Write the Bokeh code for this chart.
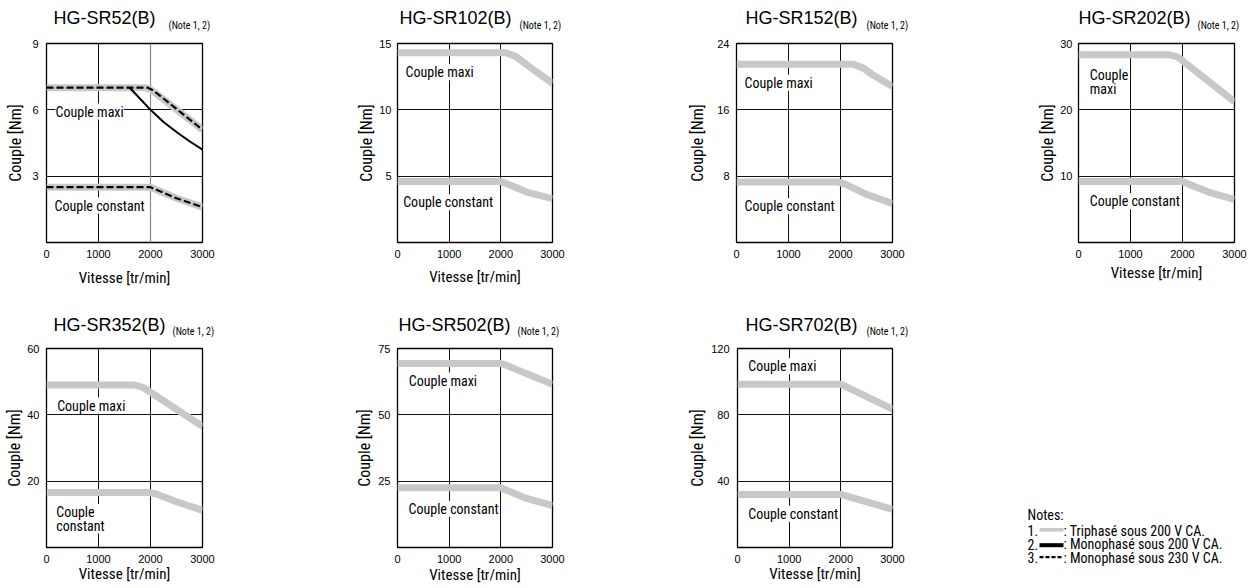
from bokeh.plotting import figure
from bokeh.layouts import row, column
from bokeh.models import Label, FixedTicker, Range1d, Span
from bokeh.embed import file_html
from bokeh.resources import INLINE

# ---------------- data ----------------
SPEED_TICKS = [0, 1000, 2000, 3000]
SPEED_MAX = 3000
MODELS = ["HG-SR52(B)", "HG-SR102(B)", "HG-SR152(B)", "HG-SR202(B)",
          "HG-SR352(B)", "HG-SR502(B)", "HG-SR702(B)"]
NOTE_REF = "(Note 1, 2)"
TORQUE_MAX = [9, 15, 24, 30, 60, 75, 120]
TORQUE_TICKS = [[3, 6, 9], [5, 10, 15], [8, 16, 24], [10, 20, 30],
                [20, 40, 60], [25, 50, 75], [40, 80, 120]]

# maximum torque, three-phase 200 V AC (grey)
MAX_SPEED = [
    [0, 1900, 2000, 2100, 3000],
    [0, 2100, 2300, 2500, 3000],
    [0, 2250, 2450, 2600, 3000],
    [0, 1750, 1900, 2000, 3000],
    [0, 1700, 1850, 2000, 3000],
    [0, 2000, 2080, 3000],
    [0, 2000, 3000],
]
MAX_TORQUE = [
    [7.0, 7.0, 6.92, 6.75, 5.1],
    [14.3, 14.3, 14.0, 13.4, 12.0],
    [21.5, 21.5, 21.0, 20.3, 18.8],
    [28.3, 28.3, 28.0, 27.4, 21.2],
    [49.0, 49.0, 48.3, 46.8, 36.5],
    [69.3, 69.3, 68.9, 61.5],
    [98.5, 98.5, 83.5],
]
# continuous torque, three-phase 200 V AC (grey)
CONT_SPEED = [
    [0, 2000, 2150, 2500, 3000],
    [0, 2000, 2200, 2500, 3000],
    [0, 1950, 2100, 2500, 3000],
    [0, 2000, 2150, 2500, 3000],
    [0, 1950, 2100, 2500, 3000],
    [0, 2000, 2100, 2500, 3000],
    [0, 2000, 3000],
]
CONT_TORQUE = [
    [2.5, 2.5, 2.35, 2.0, 1.6],
    [4.6, 4.6, 4.3, 3.8, 3.3],
    [7.3, 7.3, 7.0, 5.8, 4.7],
    [9.2, 9.2, 8.7, 7.6, 6.5],
    [16.6, 16.6, 16.2, 13.8, 11.2],
    [22.5, 22.5, 21.7, 18.5, 15.8],
    [32.0, 32.0, 23.0],
]
# HG-SR52 only: single-phase 200 V AC maximum torque (solid black)
SR52_MONO200_SPEED = [1600, 1800, 2000, 2250, 2500, 2750, 3000]
SR52_MONO200_TORQUE = [7.0, 6.5, 6.0, 5.45, 5.0, 4.58, 4.2]
# HG-SR52 only: single-phase 230 V AC (dashed) -- follows the grey curves
SR52_MONO230_MAX_SPEED = [0, 1950, 2050, 2150, 3000]
SR52_MONO230_MAX_TORQUE = [7.0, 7.0, 6.88, 6.7, 5.1]
SR52_MONO230_CONT_SPEED = [0, 2000, 2150, 2500, 3000]
SR52_MONO230_CONT_TORQUE = [2.5, 2.5, 2.35, 2.0, 1.6]

MAX_TEXT = ["Couple maxi", "Couple maxi", "Couple maxi", "Couple\nmaxi",
            "Couple maxi", "Couple maxi", "Couple maxi"]
CONT_TEXT = ["Couple constant", "Couple constant", "Couple constant", "Couple constant",
             "Couple\nconstant", "Couple constant", "Couple constant"]
X_TITLE = "Vitesse [tr/min]"
Y_TITLE = "Couple [Nm]"
SHOW_X_TITLE = [True, True, False, True, True, True, True]
NOTES_HEAD = "Notes:"
NOTES = [("1.", ": Triphasé sous 200 V CA."),
         ("2.", ": Monophasé sous 200 V CA."),
         ("3.", ": Monophasé sous 230 V CA.")]

# ---------------- layout / style ----------------
GREY = "#c8c8c8"
COND = "Roboto Condensed"
SANS = "Liberation Sans"
PAGE_W = 1251
FIG_W = [352, 333, 345, 221, 352, 333, 325]
BORDER_L = [46, 45, 51, 48, 46, 45, 52]
FRAME_W = [156, 155, 156, 156, 156, 155, 155]
HEADER_H = [35, 40]
ROW_H = [265, 248]
BORDER_T = [8, 8]
BORDER_B = [58, 41]
Y_TICK_STANDOFF = [8, 6, 7, 6, 7, 7, 8]
Y_LABEL_STANDOFF = [4, 0, 7, 0, 0, 1, 1]
X_TICK_STANDOFF = [7, 7, 7, 7, 7, 7, 7]
X_LABEL_STANDOFF = [8, 7, 0, 3, -1, 0, -1]
# header text positions: x in page pixels, vertical centres in header pixels (from bottom)
TITLE_X = [53, 399, 745, 1078, 53, 398, 745]
NOTE_X = [168, 519, 866, 1197, 172, 517, 866]
TITLE_MID = [17.5, 15.8]
NOTE_MID = [10.5, 8.8]
# caption anchors (speed, torque) of the two curve captions
MAX_POS = [(173, 5.92), (155, 12.83), (154, 19.26), (217, 24.2),
           (205, 42.8), (219, 62.9), (207, 109.3)]
CONT_POS = [(154, 1.67), (110, 3.03), (154, 4.38), (217, 6.2),
            (187, 8.65), (213, 14.6), (207, 20.3)]


def make_chart(i):
    r = 0 if i < 4 else 1
    p = figure(width=FIG_W[i], height=ROW_H[r], output_backend="svg",
               toolbar_location=None,
               x_range=Range1d(0, SPEED_MAX), y_range=Range1d(0, TORQUE_MAX[i]),
               min_border_left=BORDER_L[i],
               min_border_right=FIG_W[i] - BORDER_L[i] - FRAME_W[i],
               min_border_top=BORDER_T[r], min_border_bottom=BORDER_B[r])
    p.outline_line_color = "black"
    p.outline_line_width = 1.3
    p.background_fill_color = "white"
    p.border_fill_color = "white"

    p.xaxis.ticker = FixedTicker(ticks=SPEED_TICKS)
    p.yaxis.ticker = FixedTicker(ticks=TORQUE_TICKS[i])
    for ax in (p.xaxis[0], p.yaxis[0]):
        ax.axis_line_color = None
        ax.major_tick_line_color = None
        ax.minor_tick_line_color = None
        ax.major_tick_out = 0
        ax.major_tick_in = 0
        ax.major_label_text_font = SANS
        ax.major_label_text_font_size = "11px"
        ax.major_label_text_color = "black"
        ax.axis_label_text_font = COND
        ax.axis_label_text_font_style = "normal"
        ax.axis_label_text_color = "black"
    p.yaxis.axis_label = Y_TITLE
    p.yaxis.axis_label_text_font_size = "16px"
    p.yaxis.major_label_standoff = Y_TICK_STANDOFF[i]
    p.yaxis.axis_label_standoff = Y_LABEL_STANDOFF[i]
    if SHOW_X_TITLE[i]:
        p.xaxis.axis_label = X_TITLE
    p.xaxis.axis_label_text_font_size = "15px"
    p.xaxis.major_label_standoff = X_TICK_STANDOFF[i]
    p.xaxis.axis_label_standoff = X_LABEL_STANDOFF[i]

    for g in (p.xgrid[0], p.ygrid[0]):
        g.grid_line_color = "#111111"
        g.grid_line_width = 1
    p.ygrid.ticker = FixedTicker(ticks=TORQUE_TICKS[i])
    if i == 0:
        # in this chart the 2000 tr/min grid line is printed in grey
        p.xgrid.ticker = FixedTicker(ticks=[t for t in SPEED_TICKS if t != 2000])
        p.add_layout(Span(location=SPEED_TICKS[2], dimension="height",
                          line_color="#8a8a8a", line_width=1.2, level="underlay"))
    else:
        p.xgrid.ticker = FixedTicker(ticks=SPEED_TICKS)

    p.line(MAX_SPEED[i], MAX_TORQUE[i], line_color=GREY, line_width=7, line_join="round")
    p.line(CONT_SPEED[i], CONT_TORQUE[i], line_color=GREY, line_width=7, line_join="round")
    if i == 0:
        p.line(SR52_MONO200_SPEED, SR52_MONO200_TORQUE, line_color="black",
               line_width=2, line_join="round")
        p.line(SR52_MONO230_MAX_SPEED, SR52_MONO230_MAX_TORQUE, line_color="black",
               line_width=2.2, line_dash="7 3")
        p.line(SR52_MONO230_CONT_SPEED, SR52_MONO230_CONT_TORQUE, line_color="black",
               line_width=2.2, line_dash="7 3")

    for (pos, txt) in ((MAX_POS[i], MAX_TEXT[i]), (CONT_POS[i], CONT_TEXT[i])):
        p.add_layout(Label(x=pos[0], y=pos[1], text=txt, text_font=COND,
                           text_font_size="14px", text_color="black",
                           text_baseline="middle", text_align="left",
                           text_line_height=0.85,
                           background_fill_color="white"))
    return p


def make_header(r, idx):
    h = figure(width=PAGE_W, height=HEADER_H[r], output_backend="svg",
               toolbar_location=None, x_range=Range1d(0, PAGE_W),
               y_range=Range1d(0, HEADER_H[r]), x_axis_type=None, y_axis_type=None,
               min_border=0)
    h.grid.visible = False
    h.outline_line_color = None
    for i in idx:
        h.add_layout(Label(x=TITLE_X[i], y=TITLE_MID[r], text=MODELS[i], text_font=SANS,
                           text_font_size="18px", text_color="black",
                           text_baseline="middle"))
        h.add_layout(Label(x=NOTE_X[i], y=NOTE_MID[r], text=NOTE_REF, text_font=COND,
                           text_font_size="10px", text_color="black",
                           text_baseline="middle"))
    return h


charts = [make_chart(i) for i in range(7)]

# notes panel (pixel coordinates, y from the bottom of the panel)
NW, NH = 241, 248
notes = figure(width=NW, height=NH, output_backend="svg", toolbar_location=None,
               x_range=Range1d(0, NW), y_range=Range1d(0, NH),
               x_axis_type=None, y_axis_type=None, min_border=0)
notes.grid.visible = False
notes.outline_line_color = None
NOTE_X0 = 17
NOTE_MIDS = [73.5, 57.7, 44.5, 31]
SWATCH_Y = [58.7, 43.3, 31.3]
SWATCH = [(GREY, 3.5, "solid"), ("black", 4, "solid"), ("black", 2.2, "4 2")]
notes.add_layout(Label(x=NOTE_X0, y=NOTE_MIDS[0], text=NOTES_HEAD, text_font=COND,
                       text_font_size="14px", text_color="black", text_baseline="middle"))
for k, (num, txt) in enumerate(NOTES):
    m = NOTE_MIDS[k + 1]
    notes.add_layout(Label(x=NOTE_X0, y=m, text=num, text_font=COND,
                           text_font_size="14px", text_color="black", text_baseline="middle"))
    col, lw, dash = SWATCH[k]
    notes.segment(x0=[29], y0=[SWATCH_Y[k]], x1=[53], y1=[SWATCH_Y[k]],
                  line_color=col, line_width=lw, line_dash=dash)
    notes.add_layout(Label(x=53, y=m, text=txt, text_font=COND,
                           text_font_size="14px", text_color="black", text_baseline="middle"))

layout = column(make_header(0, range(0, 4)),
                row(*charts[:4]),
                make_header(1, range(4, 7)),
                row(*charts[4:], column(notes)))
open("out.html", "w").write(file_html(layout, INLINE))
